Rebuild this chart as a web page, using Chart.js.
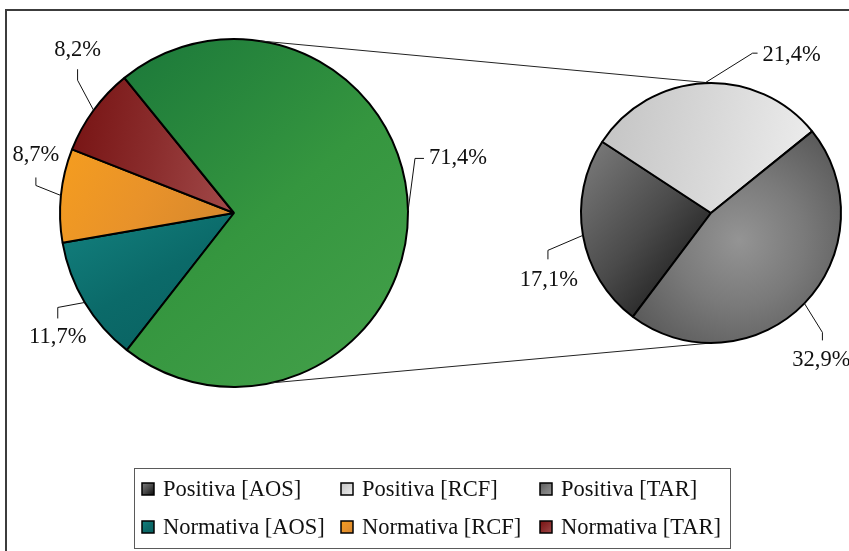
<!DOCTYPE html>
<html>
<head>
<meta charset="utf-8">
<script src="https://cdn.jsdelivr.net/npm/chart.js@4.4.0/dist/chart.umd.min.js"></script>
<style>
  html, body { margin: 0; padding: 0; background: #fff; }
  #wrap { position: relative; width: 849px; height: 551px; overflow: hidden; }
  #wrap canvas { position: absolute; left: 0; top: 0; }
</style>
</head>
<body>
<div id="wrap">
  <canvas id="mainPie" width="849" height="551"></canvas>
  <canvas id="subPie" width="849" height="551"></canvas>
</div>
<script>
"use strict";

// data
const categories = ['AOS', 'RCF', 'TAR'];
const positivaLabels = ['Positiva [AOS]', 'Positiva [RCF]', 'Positiva [TAR]'];
const normativaLabels = ['Normativa [AOS]', 'Normativa [RCF]', 'Normativa [TAR]'];
const positivaValues = [17.1, 21.4, 32.9];
const normativaValues = [11.7, 8.7, 8.2];

// main pie = normativa slices + all positiva together
const positivaTotal = Math.round(positivaValues.reduce((s, v) => s + v, 0) * 10) / 10;
const mainLabels = normativaLabels.concat(['Positiva']);
const mainValues = normativaValues.concat([positivaTotal]);

const FONT = '22.5px "Liberation Serif", "Times New Roman", serif';
const MAIN_ROTATION = 218;
const SUB_ROTATION = 217;

// slice fills (gradient per slice)
const mainStyles = [
  { angle: 60, stops: ['#13817f', '#0b6a69', '#09605f'] },
  { angle: 30, stops: ['#f59d1f', '#e8922a', '#d4862d'] },
  { angle: 10, stops: ['#761212', '#8a2c2c', '#a24a4a'] },
  { angle: 50, stops: ['#1b783a', '#35963f', '#45a14b'] }
];
const subStyles = [
  { angle: 40, stops: ['#7e7e7e', '#4a4a4a', '#0a0a0a'] },
  { angle: 10, stops: ['#c3c3c3', '#d8d8d8', '#eeeeee'] },
  { type: 'radial', shift: 0.3, size: 1.0, stops: ['#949494', '#7a7a7a', '#5a5a5a'] }
];

// label leader lines, offsets from slice edge middle
const mainLooks = [
  { elbow: [-27, 5], end: [-27, 16], text: [-27, 41], align: 'center' },
  { elbow: [-25, -10], end: [-25, -18], text: [-25, -34], align: 'center' },
  { elbow: [-16, -30], end: [-16, -41], text: [-16, -54], align: 'center' },
  { elbow: [7, -53], end: [16, -53], text: [21, -47], align: 'left' }
];
const subLooks = [
  { elbow: [-35, 15], end: [-35, 24], text: [-34, 51], align: 'center' },
  { elbow: [48, -30], end: [53, -30], text: [58, -22], align: 'left' },
  { elbow: [18, 29], end: [18, 37], text: [17, 63], align: 'center' }
];

function fmt(v) {
  return v.toFixed(1).replace('.', ',') + '%';
}

function sector_box(cx, cy, r, a0, a1) {
  const xs = [cx, cx + r * Math.cos(a0), cx + r * Math.cos(a1)];
  const ys = [cy, cy + r * Math.sin(a0), cy + r * Math.sin(a1)];
  for (let k = Math.ceil(a0 / (Math.PI / 2)); k * Math.PI / 2 <= a1; k++) {
    const a = k * Math.PI / 2;
    xs.push(cx + r * Math.cos(a));
    ys.push(cy + r * Math.sin(a));
  }
  return { x0: Math.min(...xs), x1: Math.max(...xs), y0: Math.min(...ys), y1: Math.max(...ys) };
}

function linear_fill(c, b, st) {
  const mx = (b.x0 + b.x1) / 2, my = (b.y0 + b.y1) / 2;
  const t = st.angle * Math.PI / 180;
  const half = (Math.abs(Math.cos(t)) * (b.x1 - b.x0) + Math.abs(Math.sin(t)) * (b.y1 - b.y0)) / 2;
  const g = c.createLinearGradient(mx - half * Math.cos(t), my - half * Math.sin(t),
                                   mx + half * Math.cos(t), my + half * Math.sin(t));
  st.stops.forEach((col, k) => g.addColorStop(k / (st.stops.length - 1), col));
  return g;
}

function slice_fill(c, cx, cy, r, a0, a1, st) {
  if (st.type === 'radial') {
    const m = (a0 + a1) / 2;
    const gx = cx + r * st.shift * Math.cos(m), gy = cy + r * st.shift * Math.sin(m);
    const g = c.createRadialGradient(gx, gy, 0, gx, gy, r * st.size);
    st.stops.forEach((col, k) => g.addColorStop(k / (st.stops.length - 1), col));
    return g;
  }
  return linear_fill(c, sector_box(cx, cy, r, a0, a1), st);
}

function make_bg(styles, rotation) {
  return function (ctx) {
    const i = ctx.dataIndex;
    if (i === undefined) return '#888';
    const chart = ctx.chart;
    const area = chart.chartArea;
    const meta = chart.getDatasetMeta(0);
    const r = meta.controller ? meta.controller.outerRadius : 0;
    if (!area || !r) return styles[i].stops[1];
    const cx = (area.left + area.right) / 2, cy = (area.top + area.bottom) / 2;
    const vals = ctx.dataset.data;
    const total = vals.reduce((s, v) => s + v, 0);
    let a0 = (rotation - 90) * Math.PI / 180;
    for (let k = 0; k < i; k++) a0 += vals[k] / total * 2 * Math.PI;
    const a1 = a0 + vals[i] / total * 2 * Math.PI;
    return slice_fill(chart.ctx, cx, cy, r, a0, a1, styles[i]);
  };
}

// value labels with leader lines
function label_plugin(id, looks) {
  return {
    id: id,
    afterDatasetsDraw(chart) {
      const c = chart.ctx;
      const meta = chart.getDatasetMeta(0);
      const vals = chart.data.datasets[0].data;
      c.save();
      c.strokeStyle = '#111';
      c.lineWidth = 1;
      c.font = FONT;
      c.fillStyle = '#111';
      c.textBaseline = 'alphabetic';
      meta.data.forEach((arc, i) => {
        const lk = looks[i];
        const m = (arc.startAngle + arc.endAngle) / 2;
        const ex = arc.x + arc.outerRadius * Math.cos(m);
        const ey = arc.y + arc.outerRadius * Math.sin(m);
        c.beginPath();
        c.moveTo(ex, ey);
        c.lineTo(ex + lk.elbow[0], ey + lk.elbow[1]);
        c.lineTo(ex + lk.end[0], ey + lk.end[1]);
        c.stroke();
        c.textAlign = lk.align;
        c.fillText(fmt(vals[i]), ex + lk.text[0], ey + lk.text[1]);
      });
      c.restore();
    }
  };
}

// outer frame + legend (drawn on main chart)
const framePlugin = {
  id: 'frame',
  beforeDraw(chart) {
    const c = chart.ctx;
    c.save();
    c.fillStyle = '#3c3c3c';
    c.fillRect(5, 9, chart.width, 2);
    c.fillRect(5, 9, 2, chart.height);
    c.restore();
  },
  afterDraw(chart) {
    const c = chart.ctx;
    c.save();
    c.strokeStyle = '#5a5a5a';
    c.lineWidth = 1;
    c.strokeRect(134.5, 468.5, 596, 80);
    const rows = [
      { labels: positivaLabels, styles: subStyles, y: 489 },
      { labels: normativaLabels, styles: mainStyles, y: 527 }
    ];
    c.font = FONT;
    c.fillStyle = '#111';
    c.textAlign = 'left';
    c.textBaseline = 'alphabetic';
    rows.forEach(row => {
      row.labels.forEach((txt, k) => {
        const x = 142 + k * 199;
        const b = { x0: x, x1: x + 12, y0: row.y - 6, y1: row.y + 6 };
        const st = row.styles[k].type === 'radial'
          ? { angle: 45, stops: row.styles[k].stops.slice().reverse() }
          : { angle: 45, stops: row.styles[k].stops };
        c.fillStyle = linear_fill(c, b, st);
        c.fillRect(x, row.y - 6, 12, 12);
        c.strokeStyle = '#000';
        c.lineWidth = 1.5;
        c.strokeRect(x, row.y - 6, 12, 12);
        c.fillStyle = '#111';
        c.fillText(txt, x + 21, row.y + 7);
      });
    });
    c.restore();
  }
};

const baseOptions = (pad) => ({
  responsive: false,
  devicePixelRatio: 1,
  animation: false,
  events: [],
  layout: { padding: pad },
  plugins: { legend: { display: false }, tooltip: { enabled: false } }
});

const mainChart = new Chart(document.getElementById('mainPie'), {
  type: 'pie',
  data: {
    labels: mainLabels,
    datasets: [{
      data: mainValues,
      backgroundColor: make_bg(mainStyles, MAIN_ROTATION),
      borderColor: '#000',
      borderWidth: 2,
      hoverOffset: 0,
      offset: 0
    }]
  },
  options: Object.assign(baseOptions({ left: 59, right: 440, top: 38, bottom: 163 }), { rotation: MAIN_ROTATION }),
  plugins: [framePlugin, label_plugin('mainLabels', mainLooks)]
});

// lines joining the positiva slice to the second pie
const connectorPlugin = {
  id: 'connector',
  beforeDatasetsDraw(chart) {
    const big = mainChart.getDatasetMeta(0).data[mainValues.length - 1];
    const small = chart.getDatasetMeta(0).data[0];
    if (!big || !small) return;
    const m = (big.startAngle + big.endAngle) / 2;
    const tops = [m - 81 * Math.PI / 180, m + 78 * Math.PI / 180];
    const ends = [-Math.PI / 2, Math.PI / 2];
    const c = chart.ctx;
    c.save();
    c.strokeStyle = '#222';
    c.lineWidth = 1;
    tops.forEach((a, k) => {
      c.beginPath();
      c.moveTo(big.x + big.outerRadius * Math.cos(a), big.y + big.outerRadius * Math.sin(a));
      c.lineTo(small.x + small.outerRadius * Math.cos(ends[k]), small.y + small.outerRadius * Math.sin(ends[k]));
      c.stroke();
    });
    c.restore();
  }
};

const subChart = new Chart(document.getElementById('subPie'), {
  type: 'pie',
  data: {
    labels: positivaLabels,
    datasets: [{
      data: positivaValues,
      backgroundColor: make_bg(subStyles, SUB_ROTATION),
      borderColor: '#000',
      borderWidth: 2,
      hoverOffset: 0,
      offset: 0
    }]
  },
  options: Object.assign(baseOptions({ left: 580, right: 7, top: 82, bottom: 207 }), { rotation: SUB_ROTATION }),
  plugins: [connectorPlugin, label_plugin('subLabels', subLooks)]
});
</script>
</body>
</html>
